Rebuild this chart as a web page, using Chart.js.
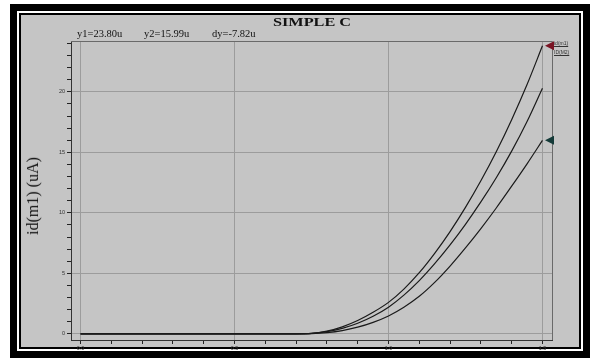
<!DOCTYPE html>
<html><head><meta charset="utf-8">
<script src="https://cdn.jsdelivr.net/npm/chart.js@4"></script>
<style>
html,body{margin:0;padding:0;background:#fff;width:592px;height:358px;overflow:hidden;position:relative;font-family:"Liberation Serif","DejaVu Serif",serif;}
.box{position:absolute;}
#f1{left:10px;top:4px;width:580px;height:354px;background:#000;}
#f2{left:17px;top:11px;width:566px;height:340px;background:#fff;}
#f3{left:19px;top:13px;width:562px;height:336px;background:#000;}
#f4{left:21px;top:15px;width:558px;height:332px;background:#c5c5c5;}
#c{position:absolute;left:0;top:0;}
.t{position:absolute;white-space:nowrap;color:#111;}
#title{left:312px;top:14px;font-size:13px;font-weight:bold;transform:translateX(-50%) scaleX(1.25);}
.cur{top:28px;font-size:10.5px;}
#ytitle{left:33px;top:196px;font-size:16px;transform:translate(-50%,-50%) rotate(-90deg);}
.leg{font-family:"Liberation Sans",sans-serif;font-size:5px;color:#333;text-decoration:underline;}
</style></head>
<body>
<div class="box" id="f1"></div><div class="box" id="f2"></div><div class="box" id="f3"></div><div class="box" id="f4"></div>
<canvas id="c" width="592" height="358"></canvas>
<div class="t" id="title">SIMPLE C</div>
<div class="t cur" style="left:77px">y1=23.80u</div>
<div class="t cur" style="left:144px">y2=15.99u</div>
<div class="t cur" style="left:212px">dy=-7.82u</div>
<div class="t" id="ytitle">id(m1) (uA)</div>
<div class="t leg" style="left:554px;top:40px">id(m1)</div>
<div class="t leg" style="left:554px;top:49px">ID(M2)</div>
<script>
const vgs = [0,0.05,0.1,0.15,0.2,0.25,0.3,0.35,0.4,0.45,0.5,0.55,0.6,0.65,0.7,0.75,0.8,0.85,0.9,0.95,1.0,1.05,1.1,1.15,1.2,1.25,1.3,1.35,1.4,1.45,1.5];
const idTop = [0,0,0,0,0,0,0,0,0,0,0,0,0,0,0,0.03,0.22,0.58,1.1,1.78,2.6,3.7,5.05,6.65,8.45,10.45,12.65,15.05,17.7,20.6,23.8];
const idMid = [0,0,0,0,0,0,0,0,0,0,0,0,0,0,0,0.03,0.18,0.45,0.87,1.45,2.2,3.2,4.4,5.8,7.35,9.05,10.9,12.9,15.1,17.55,20.3];
const idBot = [0,0,0,0,0,0,0,0,0,0,0,0,0,0,0,0.02,0.1,0.27,0.55,0.95,1.48,2.2,3.1,4.25,5.6,7.1,8.7,10.4,12.2,14.05,15.99];
const xMajor = [0,0.5,1.0,1.5];
const yMajor = [0,5,10,15,20];
const cursorY1 = 23.8, cursorY2 = 15.99;

const toPts = arr => vgs.map((v,i)=>({x:v,y:arr[i]}));
const mk = (arr)=>({data:toPts(arr),borderColor:'#1a1a1a',borderWidth:1.2,pointRadius:0,fill:false,cubicInterpolationMode:'monotone'});
const isMajor = (v,list)=>list.some(m=>Math.abs(m-v)<1e-6);

const framePlugin = {
  id:'frame',
  beforeDatasetsDraw(chart){
    const {ctx,chartArea:a}=chart;
    ctx.save();
    ctx.strokeStyle='#6a6a6a';ctx.lineWidth=1;
    ctx.beginPath();
    ctx.moveTo(a.left,a.top+0.5);ctx.lineTo(a.right+0.5,a.top+0.5);ctx.lineTo(a.right+0.5,a.bottom);
    ctx.stroke();
    ctx.restore();
  },
  afterDatasetsDraw(chart){
    const {ctx,chartArea:a,scales}=chart;
    const tri=(val,col)=>{
      const y=scales.y.getPixelForValue(val);
      ctx.fillStyle=col;ctx.beginPath();
      ctx.moveTo(a.right-7,y);ctx.lineTo(a.right+2,y-4.5);ctx.lineTo(a.right+2,y+4.5);ctx.closePath();ctx.fill();
    };
    ctx.save();
    tri(cursorY1,'#7a1424');
    tri(cursorY2,'#143a38');
    ctx.restore();
  }
};

new Chart(document.getElementById('c'),{
  type:'scatter',
  data:{datasets:[mk(idTop),mk(idMid),mk(idBot)]},
  options:{
    responsive:false,animation:false,showLine:true,
    devicePixelRatio:1,
    layout:{padding:{left:0,right:40,top:41,bottom:0}},
    plugins:{legend:{display:false},tooltip:{enabled:false},title:{display:false}},
    scales:{
      x:{type:'linear',min:-0.031,max:1.531,
        afterFit(s){s.height=18;},
        afterBuildTicks(s){const t=[];for(let i=0;i<=15;i++)t.push({value:i/10});s.ticks=t;},
        ticks:{autoSkip:false,maxRotation:0,padding:1,color:'#333',font:{size:5.5,family:'Liberation Sans'},
          callback:(v)=>isMajor(v,xMajor)?v.toFixed(1):''},
        grid:{color:(c)=>isMajor(c.tick.value,xMajor)?'#9c9c9c':'rgba(0,0,0,0)',tickColor:'#222',tickLength:4,lineWidth:1},
        border:{color:'#333',width:1}
      },
      y:{type:'linear',min:-0.51,max:24.2,
        afterFit(s){s.width=71;},
        afterBuildTicks(s){const t=[];for(let i=0;i<=24;i++)t.push({value:i});s.ticks=t;},
        ticks:{autoSkip:false,padding:2,color:'#333',font:{size:5.5,family:'Liberation Sans'},
          callback:(v)=>isMajor(v,yMajor)?String(v):''},
        grid:{color:(c)=>isMajor(c.tick.value,yMajor)?'#9c9c9c':'rgba(0,0,0,0)',tickColor:'#222',tickLength:4,lineWidth:1},
        border:{color:'#333',width:1}
      }
    }
  },
  plugins:[framePlugin]
});
</script>
</body></html>
